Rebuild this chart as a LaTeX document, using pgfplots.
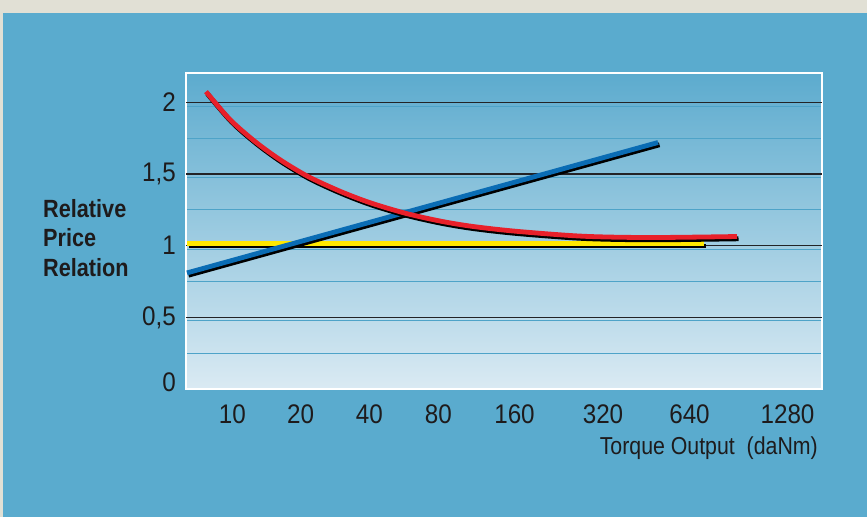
\documentclass[border=0pt]{standalone}
\usepackage{fontspec}
\setmainfont{Liberation Sans}[FakeStretch=0.87]
\newfontfamily\tickfont{Liberation Sans}[FakeStretch=0.9]
\usepackage{pgfplots}
\pgfplotsset{compat=1.18}
\usepackage{pgfplotstable}

\definecolor{outergray}{RGB}{225,224,213}
\definecolor{panelblue}{RGB}{90,171,206}
\definecolor{gridlight}{RGB}{78,163,200}
\definecolor{gridblack}{RGB}{35,35,38}
\definecolor{txt}{RGB}{30,27,28}
\definecolor{redline}{RGB}{232,32,42}
\definecolor{blueline}{RGB}{10,108,180}
\definecolor{yellowline}{RGB}{255,232,0}
\definecolor{bgtop}{RGB}{92,171,206}
\definecolor{bgbot}{RGB}{218,234,243}

\pgfplotstableread{
x y
187 0.81
658 1.72
}\bluedata
\pgfplotstableread{
x y
187 1.015
704 1.015
}\yellowdata
\pgfplotstableread{
x y
206 2.075
230 1.880
255 1.727
280 1.600
308 1.483
340 1.380
370 1.300
405 1.227
440 1.172
473 1.134
517 1.100
583 1.066
650 1.057
737 1.064
}\reddata

\begin{document}
\begin{tikzpicture}
\useasboundingbox (0,0) rectangle (867bp,517bp);
\fill[outergray] (0,0) rectangle (867bp,517bp);
\fill[panelblue] (3bp,0) rectangle (867bp,504bp);
\begin{axis}[
  at={(186bp,128bp)}, anchor=south west,
  scale only axis, width=636bp, height=316bp,
  xmin=186, xmax=822, ymin=0, ymax=2.205,
  axis background/.style={top color=bgtop, bottom color=bgbot},
  axis line style={white, line width=1.6bp},
  major tick length=0pt, minor tick length=0pt,
  xtick={232.3,300.7,369.3,438.3,514.5,603,689.5,787.5},
  xticklabels={10,20,40,80,160,320,640,1280},
  ytick={0.05,0.5,1,1.5,2},
  yticklabels={0,{0,5},1,{1,5},2},
  ymajorgrids=false,
  minor ytick={0.25,0.478,0.75,0.977,1.25,1.474,1.75,1.975},
  yminorgrids=true,
  minor grid style={gridlight, line width=0.9bp},
  extra y ticks={0.5,1,1.5,2},
  extra y tick labels={},
  extra y tick style={grid=major, major grid style={gridblack, line width=1.2bp}, major tick length=0pt},
  /pgf/number format/assume math mode=true,
  xticklabel style={font=\tickfont\fontsize{27}{27}\selectfont, text=txt, anchor=base, inner sep=0pt, yshift=-35bp},
  yticklabel style={font=\tickfont\fontsize{27}{27}\selectfont, text=txt, anchor=east, inner sep=0pt, xshift=-10bp},
  xlabel={Torque Output\ \ (daNm)},
  xlabel style={at={(axis description cs:1,0)}, anchor=base east, inner sep=0pt, yshift=-65bp, xshift=-4bp, font=\fontsize{24.6}{26}\selectfont, text=txt},
]
\addplot[black, line width=4.6bp, no markers] table[x expr=\thisrow{x}+1.5, y expr=\thisrow{y}-0.016] {\yellowdata};
\addplot[yellowline, line width=4.4bp, no markers] table {\yellowdata};
\addplot[black, line width=4.8bp, no markers] table[x expr=\thisrow{x}+1.5, y expr=\thisrow{y}-0.016] {\bluedata};
\addplot[blueline, line width=4.8bp, no markers] table {\bluedata};
\addplot[black, line width=4.8bp, no markers, smooth] table[x expr=\thisrow{x}+1.5, y expr=\thisrow{y}-0.016] {\reddata};
\addplot[redline, line width=4.8bp, no markers, smooth] table {\reddata};
\end{axis}
\node[anchor=base west, inner sep=0pt, font=\bfseries\fontsize{25}{25}\selectfont, text=txt] at (43bp,299bp) {Relative};
\node[anchor=base west, inner sep=0pt, font=\bfseries\fontsize{25}{25}\selectfont, text=txt] at (43bp,270bp) {Price};
\node[anchor=base west, inner sep=0pt, font=\bfseries\fontsize{25}{25}\selectfont, text=txt] at (43bp,240bp) {Relation};
\end{tikzpicture}
\end{document}
